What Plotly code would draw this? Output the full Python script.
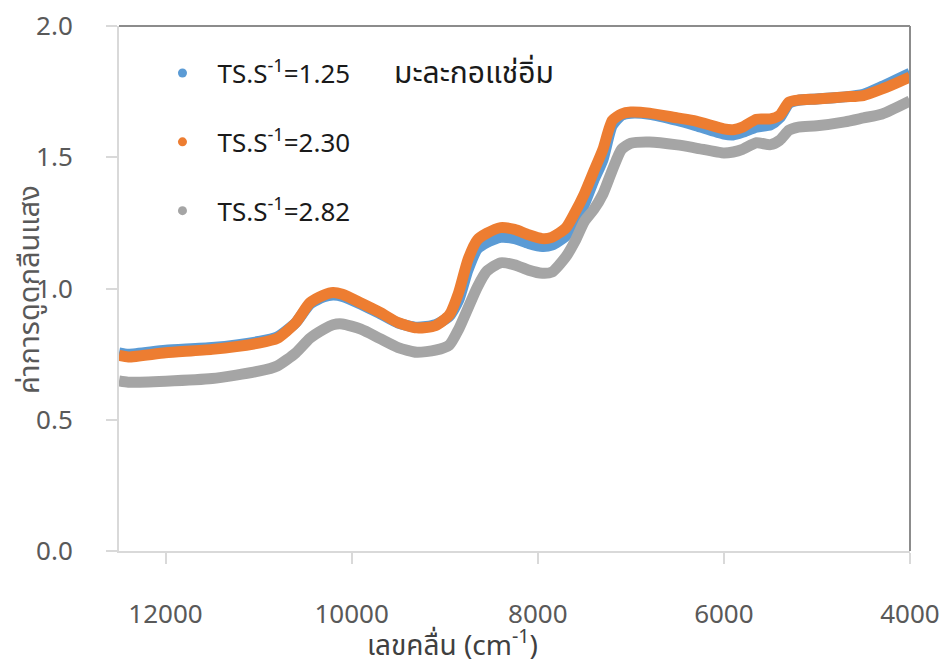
import plotly.graph_objects as go

wavenumber = [12500, 12400, 12000, 11500, 11000, 10800, 10600, 10450, 10300, 10200,
              10100, 9900, 9700, 9500, 9300, 9100, 8950, 8850, 8750, 8650,
              8550, 8400, 8250, 8100, 7950, 7850, 7700, 7600, 7500, 7400,
              7300, 7200, 7100, 7000, 6800, 6500, 6300, 6000, 5900, 5800,
              5650, 5500, 5400, 5300, 5200, 5000, 4700, 4500, 4300, 4000]

ts_125 = [0.755, 0.750, 0.765, 0.775, 0.798, 0.815, 0.870, 0.940, 0.968, 0.975,
          0.970, 0.940, 0.905, 0.868, 0.852, 0.862, 0.895, 0.955, 1.070, 1.150,
          1.175, 1.195, 1.190, 1.172, 1.160, 1.165, 1.200, 1.250, 1.320, 1.410,
          1.490, 1.620, 1.660, 1.668, 1.664, 1.640, 1.620, 1.588, 1.585, 1.595,
          1.615, 1.623, 1.650, 1.705, 1.717, 1.722, 1.730, 1.740, 1.770, 1.820]

ts_230 = [0.745, 0.739, 0.755, 0.768, 0.792, 0.810, 0.870, 0.945, 0.975, 0.985,
          0.978, 0.945, 0.910, 0.870, 0.850, 0.858, 0.900, 0.985, 1.110, 1.185,
          1.210, 1.232, 1.225, 1.205, 1.190, 1.195, 1.230, 1.290, 1.360, 1.445,
          1.530, 1.640, 1.665, 1.672, 1.668, 1.650, 1.638, 1.608, 1.605, 1.615,
          1.645, 1.646, 1.660, 1.710, 1.718, 1.722, 1.730, 1.735, 1.760, 1.806]

ts_282 = [0.648, 0.643, 0.647, 0.657, 0.685, 0.705, 0.755, 0.810, 0.845, 0.862,
          0.865, 0.845, 0.810, 0.775, 0.757, 0.765, 0.785, 0.845, 0.925, 1.005,
          1.065, 1.098, 1.090, 1.070, 1.058, 1.062, 1.120, 1.180, 1.255, 1.300,
          1.360, 1.450, 1.530, 1.553, 1.558, 1.547, 1.535, 1.516, 1.520, 1.530,
          1.555, 1.548, 1.565, 1.603, 1.615, 1.620, 1.635, 1.650, 1.665, 1.715]

series_names = ["TS.S<sup>-1</sup>=1.25", "TS.S<sup>-1</sup>=2.30", "TS.S<sup>-1</sup>=2.82"]
series_values = [ts_125, ts_230, ts_282]
colors = ["#5b9bd5", "#ed7d31", "#a5a5a5"]
x_ticks = [12000, 10000, 8000, 6000, 4000]
y_ticks = [0.0, 0.5, 1.0, 1.5, 2.0]

FONT = "Noto Sans, Noto Sans Thai, sans-serif"

fig = go.Figure()
for i, (name, vals, col) in enumerate(zip(series_names, series_values, colors)):
    fig.add_trace(go.Scatter(
        x=wavenumber, y=vals, mode="lines",
        line=dict(color=col, width=11, shape="spline", smoothing=0.6),
        showlegend=False, legendgroup=f"g{i}", hoverinfo="skip"))
for i, (name, col) in enumerate(zip(series_names, colors)):
    fig.add_trace(go.Scatter(
        x=[None], y=[None], mode="markers", name=name,
        marker=dict(color=col, size=9), legendgroup=f"g{i}"))

# page body has an 8px margin: figure is 940x658, placed at (8, 8)
PW = 791   # plot width px
PH = 525   # plot height px
axis_col = "#d9d9d9"
frame_col = "#8c8c8c"
fig.update_layout(
    width=940, height=658,
    margin=dict(l=111, r=38, t=18, b=115, autoexpand=False),
    paper_bgcolor="white", plot_bgcolor="white",
    font=dict(family=FONT, color="#595959", size=26),
    showlegend=True,
    legend=dict(x=0.036, y=0.955, xanchor="left", yanchor="top",
                bgcolor="rgba(0,0,0,0)", tracegroupgap=32,
                font=dict(family=FONT, size=26, color="#1a1a1a"),
                itemwidth=60),
    xaxis=dict(range=[12500, 4000], tickvals=x_ticks, tickformat="d",
               showgrid=False, zeroline=False, automargin=False,
               showline=True, linecolor=axis_col, linewidth=2,
               ticks="outside", ticklen=11, tickwidth=2, tickcolor=axis_col,
               ticklabelstandoff=28, ticklabeloverflow="allow",
               tickfont=dict(family=FONT, size=26, color="#595959")),
    xaxis2=dict(range=[12500, 4000], overlaying="x", side="top", anchor="y",
                showgrid=False, zeroline=False, automargin=False,
                showline=True, linecolor=frame_col, linewidth=2,
                ticks="", showticklabels=False),
    yaxis=dict(range=[0, 2], tickvals=y_ticks, tickformat=".1f",
               showgrid=False, zeroline=False, automargin=False,
               showline=True, linecolor=axis_col, linewidth=2,
               ticks="outside", ticklen=11, tickwidth=2, tickcolor=axis_col,
               ticklabelstandoff=28, ticklabeloverflow="allow",
               tickfont=dict(family=FONT, size=26, color="#595959")),
    shapes=[
        dict(type="line", xref="paper", yref="paper", x0=0, x1=1, y0=1, y1=1,
             line=dict(color=frame_col, width=2), layer="above"),
        dict(type="line", xref="paper", yref="paper", x0=1, x1=1, y0=0, y1=1,
             line=dict(color=frame_col, width=2)),
        dict(type="line", xref="paper", yref="paper", x0=-11/PW, x1=0, y0=0, y1=0,
             line=dict(color=axis_col, width=2)),
    ],
    annotations=[
        dict(text="มะละกอแช่อิ่ม", xref="paper", yref="paper", x=(392-119)/PW, y=(551-71)/PH,
             xanchor="left", yanchor="middle", showarrow=False,
             font=dict(family=FONT, size=30, color="#1a1a1a")),
        dict(text="เลขคลื่น (cm<sup>-1</sup>)", xref="paper", yref="paper",
             x=(452-119)/PW, y=(551-642)/PH, xanchor="center", yanchor="middle",
             showarrow=False, font=dict(family=FONT, size=28, color="#404040")),
        dict(text="ค่าการดูดกลืนแสง", xref="paper", yref="paper",
             x=(27-119)/PW, y=(551-290)/PH, xanchor="center", yanchor="middle",
             textangle=-90, showarrow=False,
             font=dict(family=FONT, size=29, color="#595959")),
    ],
)

fig.write_html("out.html")
